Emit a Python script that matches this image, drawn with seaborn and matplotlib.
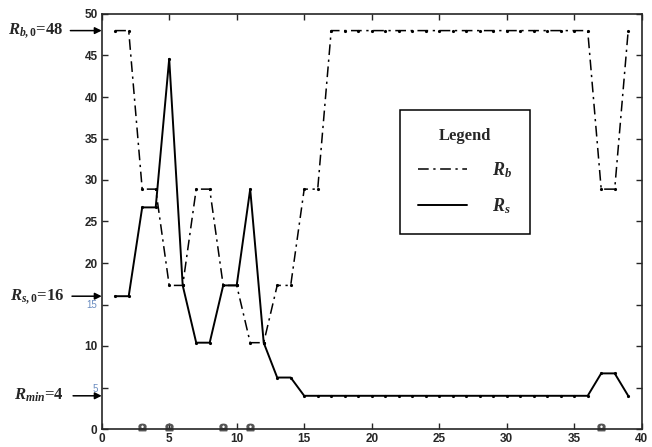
import numpy as np
import pandas as pd
import matplotlib
matplotlib.use("Agg")
import matplotlib.pyplot as plt
import seaborn as sns

# ---- data ----
steps = list(range(1, 40))
rb_values = [48, 48, 28.9, 28.9, 17.3, 17.3, 28.9, 28.9, 17.3, 17.3, 10.4, 10.4,
             17.3, 17.3, 28.9, 28.9] + [48] * 20 + [28.9, 28.9, 48]
rs_values = [16, 16, 26.7, 26.7, 44.6, 17.3, 10.4, 10.4, 17.3, 17.3, 28.9, 10.4,
             6.2, 6.2] + [4] * 22 + [6.7, 6.7, 4]
event_steps = [3, 5, 9, 11, 37]
x_ticks = list(range(0, 41, 5))
y_ticks = list(range(0, 51, 5))

sns.set_style("ticks")
plt.rcParams["mathtext.fontset"] = "custom"
plt.rcParams["mathtext.rm"] = "Liberation Serif:bold"
plt.rcParams["mathtext.it"] = "Liberation Serif:bold:italic"
plt.rcParams["mathtext.bf"] = "Liberation Serif:bold"

df = pd.DataFrame({"step": steps, "Rb": rb_values, "Rs": rs_values})

fig = plt.figure(figsize=(6.52, 4.47), dpi=100)
ax = fig.add_axes([101.7 / 652, 1 - 429 / 447, 540 / 652, 415 / 447])

sns.lineplot(data=df, x="step", y="Rb", ax=ax, color="k", lw=1.1,
             linestyle=(0, (7, 3, 1.5, 3)), marker=".", markersize=3,
             markeredgecolor="k", label=r"$R_b$")
sns.lineplot(data=df, x="step", y="Rs", ax=ax, color="k", lw=1.4,
             linestyle="-", marker=".", markersize=3,
             markeredgecolor="k", label=r"$R_s$")

ax.plot(event_steps, [0.3] * len(event_steps), linestyle="none",
        marker=r"$\Omega$", markersize=5, color="#555555", clip_on=False)

ax.set_xlim(0, 40)
ax.set_ylim(0, 50)
ax.set_xticks(x_ticks)
ax.set_yticks(y_ticks)
ax.set_xlabel("")
ax.set_ylabel("")
ax.tick_params(direction="in", top=True, right=True, length=4, width=1,
               pad=3)
for lab in ax.get_xticklabels() + ax.get_yticklabels():
    lab.set_fontfamily("Liberation Sans")
    lab.set_fontweight("bold")
    lab.set_fontsize(8.5)
for lab in ax.get_yticklabels():
    if lab.get_text() in ("15", "5"):
        lab.set_color("#6a8cc0")
        lab.set_fontweight("normal")
        lab.set_fontsize(7)
for s in ax.spines.values():
    s.set_linewidth(1.2)
    s.set_visible(True)

# annotations on the left
ytr = ax.get_yaxis_transform()
ann = [(48, r"$R_{b,0}$=48", -0.058), (16, r"$R_{s,0}$=16", -0.055), (4, r"$R_{min}$=4", -0.053)]
for val, txt, start in ann:
    ax.text(-0.07, val, txt, transform=ytr, ha="right", va="center",
            fontsize=12, fontfamily="Liberation Serif", fontweight="bold")
    ax.annotate("", xy=(0, val), xycoords=ytr, xytext=(start, val),
                textcoords=ytr,
                arrowprops=dict(arrowstyle="-|>", color="k", lw=1.1,
                                mutation_scale=10, shrinkA=0, shrinkB=0),
                annotation_clip=False)

leg = ax.legend(loc="upper left", bbox_to_anchor=(0.552, 0.769),
                title="Legend", frameon=True, fancybox=False,
                edgecolor="k", framealpha=1, fontsize=13,
                handlelength=2.7, handletextpad=1.4, labelspacing=0.9,
                borderpad=1.0, borderaxespad=0)
leg.get_frame().set_linewidth(1.1)
leg.get_title().set_fontfamily("Liberation Serif")
leg.get_title().set_fontweight("bold")
leg.get_title().set_fontsize(12)
for h in leg.legend_handles:
    h.set_marker("")

fig.savefig("out.png", dpi=100)
